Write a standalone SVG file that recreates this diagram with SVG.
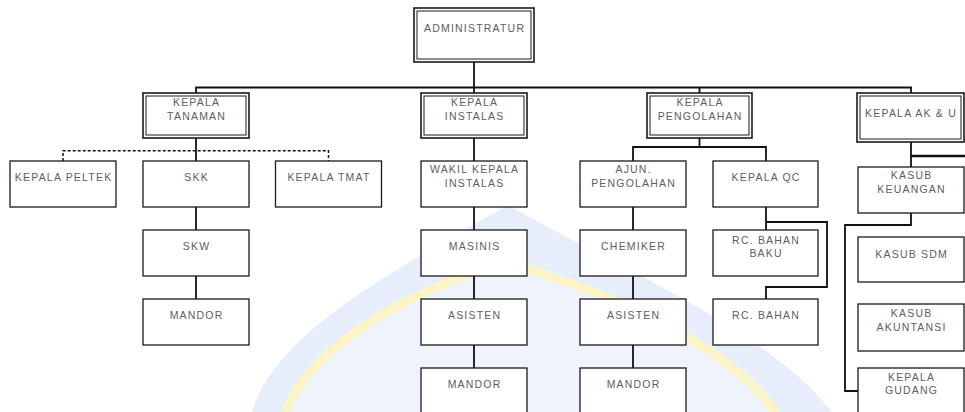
<svg xmlns="http://www.w3.org/2000/svg" width="965" height="412" viewBox="0 0 965 412">
<style>
  .bg { fill: #ffffff; }
  .box { fill: #ffffff; stroke: #1a1a1a; stroke-width: 1.3; }
  .outer { fill: #ffffff; stroke: #1a1a1a; stroke-width: 1.6; }
  .inner { fill: none; stroke: #1a1a1a; stroke-width: 1; }
  .lbl { font-family: "Liberation Sans", Arial, sans-serif; font-size: 10.5px; letter-spacing: 1.2px; fill: #5e5e5e; text-anchor: middle; }
  .conn { fill: none; stroke: #111111; stroke-width: 1.8; }
  .dash { fill: none; stroke: #111111; stroke-width: 1.5; stroke-dasharray: 3 2; }
</style>
<rect class="bg" x="0" y="0" width="965" height="412"/>
<g id="watermark">
  <path d="M252 412 C275 330 410 262 508 205 C606 262 770 330 832 412 Z" fill="#e6eefb"/>
  <path d="M285 412 C318 338 415 290 506 262 C600 290 722 338 776 412 Z" fill="#eff4fc"/>
  <path d="M285 412 C318 338 415 290 506 262 C600 290 722 338 776 412" fill="none" stroke="#fcf4c6" stroke-width="9"/>
</g>
<g id="connectors">
  <path class="conn" d="M474 62 V93"/>
  <path class="conn" d="M196 93 V87.5 H911 V93"/>
  <path class="conn" d="M699.5 87.5 V93"/>
  <path class="conn" d="M196 138 V161"/>
  <path class="dash" d="M63 161 V150.7 H328.5 V161"/>
  <path class="conn" d="M196 207 V230"/>
  <path class="conn" d="M196 276 V299"/>
  <path class="conn" d="M474 138 V161"/>
  <path class="conn" d="M474 207 V230"/>
  <path class="conn" d="M474 276 V299"/>
  <path class="conn" d="M474 345 V368"/>
  <path class="conn" d="M699.5 138 V147"/>
  <path class="conn" d="M633 161 V147 H766 V161"/>
  <path class="conn" d="M633 207 V230"/>
  <path class="conn" d="M633 276 V299"/>
  <path class="conn" d="M633 345 V368"/>
  <path class="conn" d="M766 207 V230"/>
  <path class="conn" d="M766 222 H827 V287 H766 V299"/>
  <path class="conn" d="M911 142 V167"/>
  <path class="conn" d="M911 156 H965" style="stroke-width:2.6"/>
  <path class="conn" d="M911 213 V225 H845 V391 H858"/>
</g>
<g id="administratur">
  <rect class="outer" x="414" y="8" width="120" height="54"/>
  <rect class="inner" x="417" y="11" width="114" height="48"/>
  <text class="lbl" x="474.6" y="32">ADMINISTRATUR</text>
</g>
<g id="kepala-tanaman">
  <rect class="outer" x="143" y="93" width="106" height="45"/>
  <rect class="inner" x="146" y="96" width="100" height="39"/>
  <text class="lbl" x="196.6" y="106">KEPALA</text>
  <text class="lbl" x="196.6" y="119.5">TANAMAN</text>
</g>
<g id="kepala-instalas">
  <rect class="outer" x="421" y="93" width="106" height="45"/>
  <rect class="inner" x="424" y="96" width="100" height="39"/>
  <text class="lbl" x="474.6" y="106">KEPALA</text>
  <text class="lbl" x="474.6" y="119.5">INSTALAS</text>
</g>
<g id="kepala-pengolahan">
  <rect class="outer" x="647" y="93" width="105" height="45"/>
  <rect class="inner" x="650" y="96" width="99" height="39"/>
  <text class="lbl" x="700.1" y="106">KEPALA</text>
  <text class="lbl" x="700.1" y="119.5">PENGOLAHAN</text>
</g>
<g id="kepala-akbu">
  <rect class="outer" x="857" y="93" width="107" height="49"/>
  <rect class="inner" x="860" y="96" width="101" height="43"/>
  <text class="lbl" x="911" y="117">KEPALA AK &amp; U</text>
</g>
<g id="kepala-peltek">
  <rect class="box" x="10" y="161" width="106" height="46"/>
  <text class="lbl" x="63.6" y="181">KEPALA PELTEK</text>
</g>
<g id="skk">
  <rect class="box" x="143" y="161" width="106" height="46"/>
  <text class="lbl" x="196.6" y="181">SKK</text>
</g>
<g id="kepala-tmat">
  <rect class="box" x="275.5" y="161" width="106" height="46"/>
  <text class="lbl" x="329" y="181">KEPALA TMAT</text>
</g>
<g id="skw">
  <rect class="box" x="143" y="230" width="106" height="46"/>
  <text class="lbl" x="196.6" y="250">SKW</text>
</g>
<g id="mandor-1">
  <rect class="box" x="143" y="299" width="106" height="46"/>
  <text class="lbl" x="196.6" y="319">MANDOR</text>
</g>
<g id="wakil-kepala-instalas">
  <rect class="box" x="421" y="161" width="106" height="46"/>
  <text class="lbl" x="474.6" y="173">WAKIL KEPALA</text>
  <text class="lbl" x="474.6" y="186.5">INSTALAS</text>
</g>
<g id="masinis">
  <rect class="box" x="421" y="230" width="106" height="46"/>
  <text class="lbl" x="474.6" y="250">MASINIS</text>
</g>
<g id="asisten-1">
  <rect class="box" x="421" y="299" width="106" height="46"/>
  <text class="lbl" x="474.6" y="319">ASISTEN</text>
</g>
<g id="mandor-2">
  <rect class="box" x="421" y="368" width="106" height="46"/>
  <text class="lbl" x="474.6" y="388">MANDOR</text>
</g>
<g id="ajun-pengolahan">
  <rect class="box" x="580" y="161" width="106" height="46"/>
  <text class="lbl" x="633.6" y="173">AJUN.</text>
  <text class="lbl" x="633.6" y="186.5">PENGOLAHAN</text>
</g>
<g id="chemiker">
  <rect class="box" x="580" y="230" width="106" height="46"/>
  <text class="lbl" x="633.6" y="250">CHEMIKER</text>
</g>
<g id="asisten-2">
  <rect class="box" x="580" y="299" width="106" height="46"/>
  <text class="lbl" x="633.6" y="319">ASISTEN</text>
</g>
<g id="mandor-3">
  <rect class="box" x="580" y="368" width="106" height="46"/>
  <text class="lbl" x="633.6" y="388">MANDOR</text>
</g>
<g id="kepala-qc">
  <rect class="box" x="713" y="161" width="105" height="46"/>
  <text class="lbl" x="766.1" y="181">KEPALA QC</text>
</g>
<g id="rc-bahan-baku">
  <rect class="box" x="713" y="230" width="105" height="46"/>
  <text class="lbl" x="766.1" y="243.5">RC. BAHAN</text>
  <text class="lbl" x="766.1" y="257">BAKU</text>
</g>
<g id="rc-bahan">
  <rect class="box" x="713" y="299" width="105" height="46"/>
  <text class="lbl" x="766.1" y="319">RC. BAHAN</text>
</g>
<g id="kasub-keuangan">
  <rect class="box" x="858" y="167" width="106" height="46"/>
  <text class="lbl" x="911.6" y="179">KASUB</text>
  <text class="lbl" x="911.6" y="192.5">KEUANGAN</text>
</g>
<g id="kasub-sdm">
  <rect class="box" x="858" y="237" width="106" height="45"/>
  <text class="lbl" x="911.6" y="258">KASUB SDM</text>
</g>
<g id="kasub-akuntansi">
  <rect class="box" x="858" y="304" width="106" height="47"/>
  <text class="lbl" x="911.6" y="317">KASUB</text>
  <text class="lbl" x="911.6" y="330.5">AKUNTANSI</text>
</g>
<g id="kepala-gudang">
  <rect class="box" x="858" y="368" width="106" height="46"/>
  <text class="lbl" x="911.6" y="380.5">KEPALA</text>
  <text class="lbl" x="911.6" y="394">GUDANG</text>
</g>
</svg>
